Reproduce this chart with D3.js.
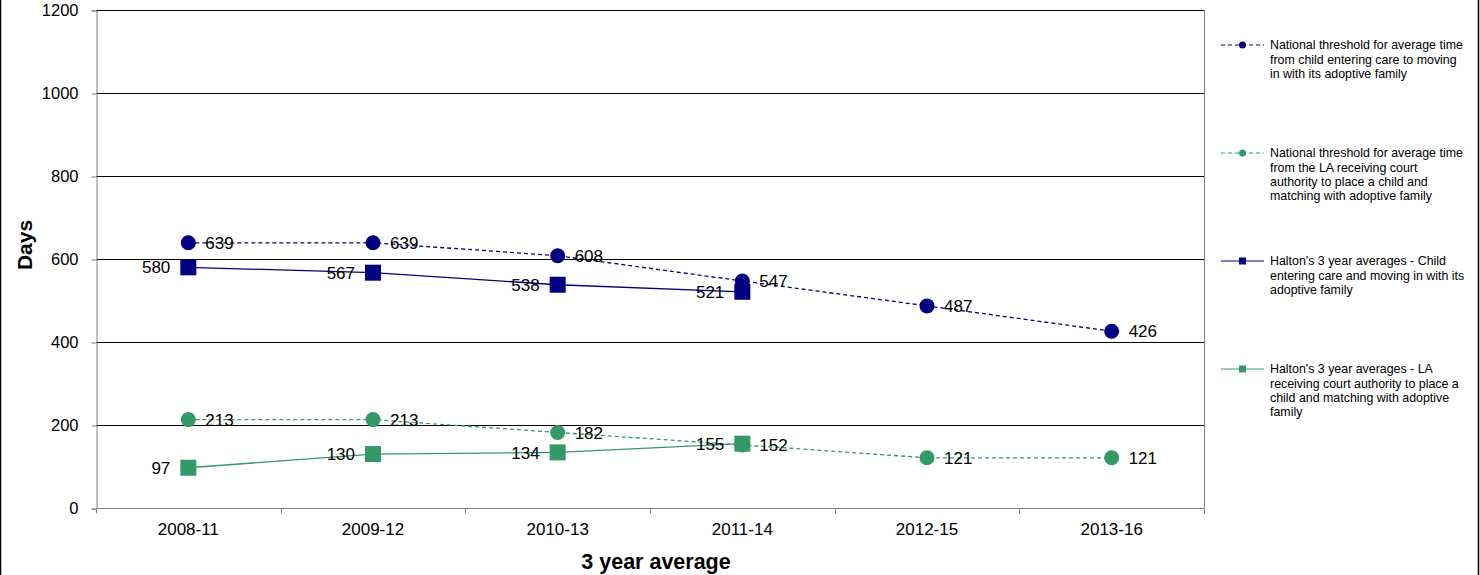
<!DOCTYPE html>
<html>
<head>
<meta charset="utf-8">
<script src="https://cdn.jsdelivr.net/npm/d3@7"></script>
<style>
  body { margin: 0; background: #fff; }
  svg { display: block; font-family: "Liberation Sans", Arial, sans-serif; }
</style>
</head>
<body>
<div id="chart"></div>
<script>
const periods = ['2008-11', '2009-12', '2010-13', '2011-14', '2012-15', '2013-16'];
const nationalCare = [639, 639, 608, 547, 487, 426];
const nationalCourt = [213, 213, 182, 152, 121, 121];
const haltonCare = [580, 567, 538, 521];
const haltonCourt = [97, 130, 134, 155];
const yTicks = [0, 200, 400, 600, 800, 1000, 1200];

const navy = '#000080';
const green = '#339966';

const series = [
  {lines: ['National threshold for average time', 'from child entering care to moving', 'in with its adoptive family'],
   values: nationalCare, color: navy, dash: '4,3', shape: 'circle', label: 'right'},
  {lines: ['National threshold for average time', 'from the LA receiving court', 'authority to place a child and', 'matching with adoptive family'],
   values: nationalCourt, color: green, dash: '4,3', shape: 'circle', label: 'right'},
  {lines: ["Halton's 3 year averages - Child", 'entering care and moving in with its', 'adoptive family'],
   values: haltonCare, color: navy, dash: null, shape: 'square', label: 'left'},
  {lines: ["Halton's 3 year averages - LA", 'receiving court authority to place a', 'child and matching with adoptive', 'family'],
   values: haltonCourt, color: green, dash: null, shape: 'square', label: 'left'}
];

const width = 1480, height = 575;
const plot = {left: 96, right: 1204, top: 10, bottom: 508};

const svg = d3.select('#chart').append('svg')
  .attr('width', width)
  .attr('height', height);

// outer chart frame
svg.append('rect')
  .attr('x', 0.5).attr('y', -5)
  .attr('width', width - 2).attr('height', height + 10)
  .attr('fill', 'none').attr('stroke', '#000').attr('stroke-width', 1.5);

const x = d3.scaleBand().domain(periods).range([plot.left, plot.right]);
const y = d3.scaleLinear().domain([0, 1200]).range([plot.bottom, plot.top]);
const cx = d => x(d) + x.bandwidth() / 2;

// gridlines
svg.append('g')
  .selectAll('line')
  .data(yTicks.filter(d => d > 0))
  .join('line')
    .attr('x1', plot.left).attr('x2', plot.right)
    .attr('y1', d => Math.round(y(d)) + 0.5).attr('y2', d => Math.round(y(d)) + 0.5)
    .attr('stroke', '#000');

// right border of plot area
svg.append('line')
  .attr('x1', plot.right + 0.5).attr('x2', plot.right + 0.5)
  .attr('y1', plot.top).attr('y2', plot.bottom)
  .attr('stroke', '#808080');

// y axis
const yAxis = svg.append('g')
  .attr('transform', `translate(${plot.left + 0.5},0.5)`)
  .call(d3.axisLeft(y).tickValues(yTicks).tickFormat(d3.format('d')).tickSize(5).tickPadding(13));
yAxis.select('.domain').attr('stroke', '#808080');
yAxis.selectAll('.tick line').attr('stroke', '#808080');
yAxis.selectAll('text').attr('font-size', 16.5).attr('fill', '#000')
  .attr('font-family', '"Liberation Sans", Arial, sans-serif');

// x axis: ticks at band boundaries
const xAxis = svg.append('g')
  .attr('transform', `translate(0,${plot.bottom + 0.5})`);
xAxis.append('line')
  .attr('x1', plot.left).attr('x2', plot.right)
  .attr('stroke', '#808080');
xAxis.selectAll('line.tk')
  .data(periods.map(p => x(p)).concat([plot.right]))
  .join('line')
    .attr('class', 'tk')
    .attr('x1', d => Math.round(d) + 0.5).attr('x2', d => Math.round(d) + 0.5)
    .attr('y1', 0).attr('y2', 5)
    .attr('stroke', '#808080');
xAxis.selectAll('text')
  .data(periods)
  .join('text')
    .attr('x', d => cx(d))
    .attr('y', 26)
    .attr('text-anchor', 'middle')
    .attr('font-size', 17)
    .text(d => d);

// axis titles
svg.append('text')
  .attr('transform', `translate(32,${(plot.top + plot.bottom) / 2 - 14}) rotate(-90)`)
  .attr('text-anchor', 'middle')
  .attr('font-size', 21)
  .attr('font-weight', 'bold')
  .text('Days');
svg.append('text')
  .attr('x', 656)
  .attr('y', 569)
  .attr('text-anchor', 'middle')
  .attr('font-size', 21.5)
  .attr('font-weight', 'bold')
  .text('3 year average');

const line = d3.line()
  .x((d, i) => cx(periods[i]))
  .y(d => y(d));

function drawMarker(g, s, px, py, r) {
  if (s.shape === 'circle') {
    g.append('circle').attr('cx', px).attr('cy', py).attr('r', r)
      .attr('fill', s.color);
  } else {
    g.append('rect').attr('x', px - r).attr('y', py - r)
      .attr('width', 2 * r).attr('height', 2 * r)
      .attr('fill', s.color);
  }
}

series.forEach(s => {
  const g = svg.append('g');
  g.append('path')
    .datum(s.values)
    .attr('d', line)
    .attr('fill', 'none')
    .attr('stroke', s.color)
    .attr('stroke-width', 1.3)
    .attr('stroke-dasharray', s.dash);
  s.values.forEach((v, i) => {
    drawMarker(g, s, cx(periods[i]), y(v), s.shape === 'circle' ? 7.5 : 8);
  });
});

// data labels
series.forEach(s => {
  svg.append('g')
    .selectAll('text')
    .data(s.values)
    .join('text')
      .attr('x', (d, i) => cx(periods[i]) + (s.label === 'right' ? 17 : -18))
      .attr('y', d => y(d))
      .attr('dy', '0.36em')
      .attr('text-anchor', s.label === 'right' ? 'start' : 'end')
      .attr('font-size', 17)
      .text(d => d);
});

// legend
const legend = svg.append('g').attr('font-size', 12.4);
series.forEach((s, k) => {
  const ly = 45 + k * 108;
  const g = legend.append('g');
  g.append('line')
    .attr('x1', 1221).attr('x2', 1264)
    .attr('y1', ly).attr('y2', ly)
    .attr('stroke', s.color)
    .attr('stroke-dasharray', s.dash);
  drawMarker(g, s, 1242.5, ly, 3.5);
  s.lines.forEach((t, j) => {
    g.append('text')
      .attr('x', 1270)
      .attr('y', ly + j * 14.3)
      .attr('dy', '0.35em')
      .attr('fill', '#000')
      .text(t);
  });
});
</script>
</body>
</html>
